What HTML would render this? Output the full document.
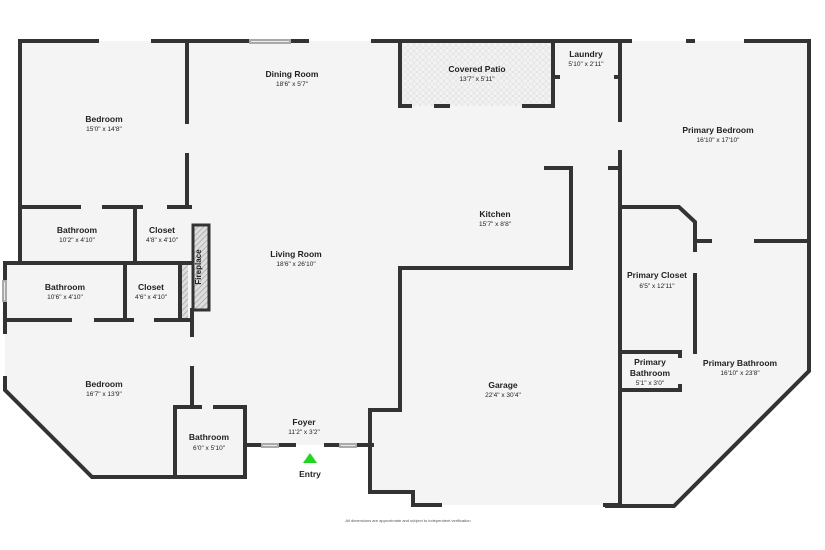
<!DOCTYPE html>
<html><head><meta charset="utf-8"><style>
html,body{margin:0;padding:0;background:#fff;}
svg{display:block;}
text{font-family:"Liberation Sans",sans-serif;fill:#222;text-anchor:middle;}
.n{font-size:8.5px;font-weight:bold;}
.d{font-size:6.5px;}
</style></head><body>
<svg width="825" height="550" viewBox="0 0 825 550" xmlns="http://www.w3.org/2000/svg">
<defs>
<pattern id="h" width="4" height="4" patternUnits="userSpaceOnUse" patternTransform="rotate(45)"><rect width="4" height="4" fill="#ddd"/><line x1="0" y1="0" x2="0" y2="4" stroke="#999" stroke-width="1.2"/></pattern>
<pattern id="p" width="6" height="6" patternUnits="userSpaceOnUse"><rect width="6" height="6" fill="#f2f2f2"/><circle cx="3" cy="3" r="2.4" fill="none" stroke="#ddd" stroke-width="0.6"/></pattern>
</defs>
<!-- floors -->
<g fill="#f4f4f4">
<rect x="20" y="41" width="170" height="280"/>
<rect x="5" y="263" width="185" height="60"/>
<polygon points="5,320 192,320 192,477 92,477 5,390"/>
<rect x="175" y="407" width="70" height="70"/>
<rect x="190" y="41" width="432" height="404"/>
<polygon points="400,268 620,268 620,505 413,505 413,492 370,492 370,410 400,410"/>
<polygon points="620,41 809,41 809,371 674,506 620,506"/>
</g>
<rect x="400" y="41" width="153" height="65" fill="url(#p)"/>
<!-- fireplace -->
<rect x="193" y="225" width="16" height="85" fill="url(#h)" stroke="#333" stroke-width="3"/>
<rect x="179" y="265" width="9" height="55" fill="url(#h)"/>
<text x="201" y="267" transform="rotate(-90 201 267)" class="n" style="font-size:8px">Fireplace</text>
<!-- walls -->
<g stroke="#333" stroke-width="4" fill="none" stroke-linecap="square">
<path d="M20,41 H97 M153,41 H250 M290,41 H307 M373,41 H400"/>
<path d="M20,41 V207"/>
<path d="M187,41 V122 M187,155 V207"/>
<path d="M400,41 V106 H410 M436,106 H448 M524,106 H553 V41 M400,41 H630 M688,41 H693 M746,41 H809"/>
<path d="M553,77 H558 M616,77 H620"/>
<path d="M620,41 V120 M620,152 V506"/>
<path d="M809,41 V371 L674,506 H607"/>
<path d="M546,168 H571 M610,168 H620 M571,168 V268 H400 V410 H370 V492 H413 V505 H440 M605,505 H620"/>
<path d="M620,207 H679 L695,222 V250 M695,275 V352 M695,241 H710 M756,241 H809"/>
<path d="M620,352 H680 V356 M680,386 V390 H620"/>
<path d="M20,207 H79 M104,207 H141 M169,207 H190"/>
<path d="M135,207 V263 M20,207 V263 M5,263 H190 M125,263 V320 M5,263 V320 M180,263 V320"/>
<path d="M5,320 H70 M96,320 H132 M156,320 H190"/>
<path d="M192,310 V335 M192,368 V407"/>
<path d="M5,320 V332 M5,378 V390 L92,477 H245 V407 H215 M200,407 H175 V477"/>
<path d="M245,445 H262 M278,445 H294 M326,445 H340 M356,445 H372"/>
</g>
<!-- windows -->
<g stroke="#aaa" stroke-width="2" fill="#e8e8e8">
<rect x="250" y="40" width="40" height="3"/>
<rect x="262" y="444" width="16" height="3"/>
<rect x="340" y="444" width="16" height="3"/>
<rect x="3" y="281" width="3" height="20"/>
</g>
<polygon points="310,453 303,463 317,463" fill="#1dd81d"/>
<!-- labels -->
<text class="n" x="104" y="122">Bedroom</text><text class="d" x="104" y="131">15'0" x 14'8"</text>
<text class="n" x="292" y="77">Dining Room</text><text class="d" x="292" y="86">18'6" x 5'7"</text>
<text class="n" x="477" y="72">Covered Patio</text><text class="d" x="477" y="81">13'7" x 5'11"</text>
<text class="n" x="586" y="57">Laundry</text><text class="d" x="586" y="66">5'10" x 2'11"</text>
<text class="n" x="718" y="133">Primary Bedroom</text><text class="d" x="718" y="142">16'10" x 17'10"</text>
<text class="n" x="495" y="217">Kitchen</text><text class="d" x="495" y="226">15'7" x 8'8"</text>
<text class="n" x="77" y="233">Bathroom</text><text class="d" x="77" y="242">10'2" x 4'10"</text>
<text class="n" x="162" y="233">Closet</text><text class="d" x="162" y="242">4'8" x 4'10"</text>
<text class="n" x="296" y="257">Living Room</text><text class="d" x="296" y="266">18'6" x 26'10"</text>
<text class="n" x="65" y="290">Bathroom</text><text class="d" x="65" y="299">10'6" x 4'10"</text>
<text class="n" x="151" y="290">Closet</text><text class="d" x="151" y="299">4'6" x 4'10"</text>
<text class="n" x="657" y="278">Primary Closet</text><text class="d" x="657" y="288">6'5" x 12'11"</text>
<text class="n" x="650" y="365">Primary</text><text class="n" x="650" y="376">Bathroom</text><text class="d" x="650" y="385">5'1" x 3'0"</text>
<text class="n" x="740" y="366">Primary Bathroom</text><text class="d" x="740" y="375">16'10" x 23'8"</text>
<text class="n" x="104" y="387">Bedroom</text><text class="d" x="104" y="396">16'7" x 13'9"</text>
<text class="n" x="503" y="388">Garage</text><text class="d" x="503" y="397">22'4" x 30'4"</text>
<text class="n" x="304" y="425">Foyer</text><text class="d" x="304" y="434">11'2" x 3'2"</text>
<text class="n" x="209" y="440">Bathroom</text><text class="d" x="209" y="450">6'0" x 5'10"</text>
<text class="n" x="310" y="477">Entry</text>
<text x="408" y="522" style="font-size:4px;fill:#555">All dimensions are approximate and subject to independent verification</text>
</svg>
</body></html>
